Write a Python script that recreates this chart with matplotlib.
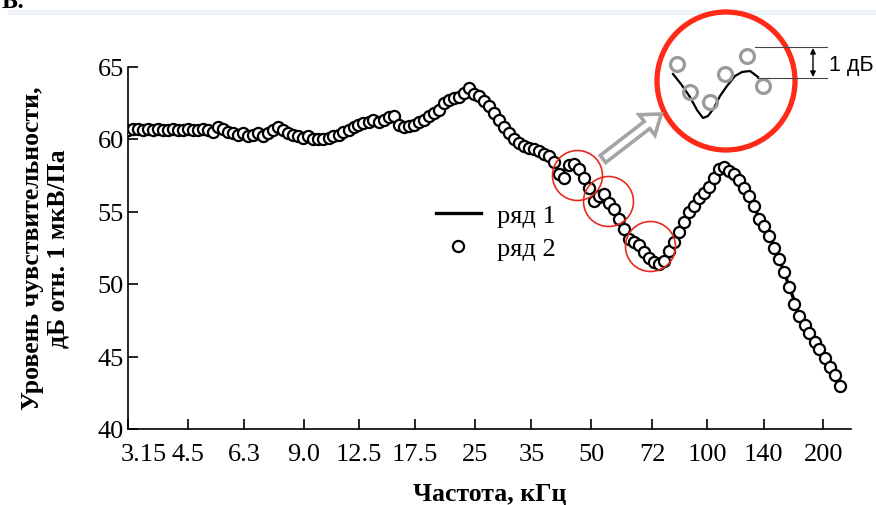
import matplotlib
matplotlib.use("Agg")
import matplotlib.pyplot as plt
from matplotlib.patches import Circle, FancyArrow, Rectangle
from matplotlib.ticker import FixedLocator, NullLocator

# frequency grid, kHz
freq_khz = [
    3.15, 3.25, 3.34, 3.45, 3.55, 3.66, 3.77, 3.88, 4.00, 4.12,
    4.25, 4.38, 4.51, 4.65, 4.79, 4.94, 5.09, 5.24, 5.40, 5.56,
    5.73, 5.91, 6.09, 6.27, 6.46, 6.66, 6.86, 7.07, 7.28, 7.50,
    7.73, 7.97, 8.21, 8.46, 8.71, 8.98, 9.25, 9.53, 9.82, 10.12,
    10.43, 10.74, 11.07, 11.40, 11.75, 12.11, 12.47, 12.85, 13.24, 13.64,
    14.06, 14.49, 14.93, 15.38, 15.85, 16.33, 16.82, 17.33, 17.86, 18.40,
    18.96, 19.54, 20.13, 20.74, 21.37, 22.02, 22.69, 23.38, 24.09, 24.82,
    25.57, 26.35, 27.15, 27.97, 28.82, 29.70, 30.60, 31.53, 32.49, 33.47,
    34.49, 35.54, 36.62, 37.73, 38.87, 40.05, 41.27, 42.52, 43.81, 45.14,
    46.52, 47.93, 49.38, 50.88, 52.43, 54.02, 55.66, 57.35, 59.09, 60.89,
    62.74, 64.64, 66.61, 68.63, 70.71, 72.86, 75.07, 77.35, 79.70, 82.12,
    84.61, 87.18, 89.83, 92.56, 95.37, 98.27, 101.3, 104.3, 107.5, 110.8,
    114.1, 117.6, 121.2, 124.8, 128.6, 132.5, 136.6, 140.7, 145.0, 149.4,
    153.9, 158.6, 163.4, 168.4, 173.5, 178.8, 184.2, 189.8, 195.5, 201.5,
    207.6, 213.9, 220.4,
]

# ряд 2 (circles), dB
level_row2 = [
    60.6, 60.7, 60.7, 60.6, 60.7, 60.6, 60.7, 60.6, 60.6, 60.7,
    60.6, 60.6, 60.7, 60.6, 60.6, 60.7, 60.6, 60.5, 60.8, 60.7,
    60.5, 60.4, 60.3, 60.4, 60.2, 60.3, 60.4, 60.2, 60.4, 60.6,
    60.8, 60.6, 60.4, 60.3, 60.2, 60.1, 60.2, 60.0, 60.0, 60.0,
    60.1, 60.2, 60.3, 60.5, 60.6, 60.8, 61.0, 61.1, 61.2, 61.3,
    61.2, 61.3, 61.5, 61.6, 61.0, 60.8, 60.9, 61.0, 61.2, 61.3,
    61.6, 61.8, 62.0, 62.5, 62.7, 62.8, 62.9, 63.2, 63.5, 63.1,
    63.0, 62.6, 62.3, 61.8, 61.3, 60.8, 60.4, 60.0, 59.7, 59.5,
    59.4, 59.3, 59.2, 59.0, 58.8, 58.4, 57.6, 57.3, 58.2, 58.3,
    57.9, 57.3, 56.6, 55.7, 56.1, 56.2, 55.6, 55.2, 54.5, 53.8,
    53.1, 52.9, 52.7, 52.2, 51.8, 51.5, 51.4, 51.6, 52.3, 52.9,
    53.6, 54.3, 55.0, 55.4, 55.9, 56.3, 56.7, 57.3, 57.9, 58.1,
    57.8, 57.6, 57.2, 56.6, 56.1, 55.4, 54.5, 54.0, 53.3, 52.5,
    51.7, 50.8, 49.8, 48.6, 47.8, 47.2, 46.6, 46.0, 45.5, 44.9,
    44.3, 43.7, 43.0,
]

# ряд 1 (line), read on every second frequency of the grid
level_row1 = [
    60.6, 60.7, 60.7, 60.7, 60.6, 60.6, 60.7, 60.6, 60.6, 60.7,
    60.5, 60.3, 60.3, 60.4, 60.4, 60.7, 60.4, 60.2, 60.1, 60.0,
    60.1, 60.3, 60.6, 61.0, 61.2, 61.2, 61.5, 61.1, 60.9, 61.2,
    61.6, 62.0, 62.7, 62.9, 63.4, 63.0, 62.3, 61.3, 60.4, 59.7,
    59.4, 59.2, 58.8, 57.8, 57.9, 58.0, 56.8, 55.6, 55.8, 54.6,
    53.2, 52.6, 51.7, 51.2, 52.1, 53.6, 55.0, 55.9, 56.7, 57.9,
    57.9, 57.2, 56.1, 54.5, 53.3, 51.7, 49.8, 47.8, 46.6, 45.5,
    44.3, 43.0,
]

tick_freqs = [3.15, 4.5, 6.3, 9.0, 12.5, 17.5, 25, 35, 50, 72, 100, 140, 200]
tick_labels = ["3.15", "4.5", "6.3", "9.0", "12.5", "17.5", "25", "35",
               "50", "72", "100", "140", "200"]
y_ticks = [40, 45, 50, 55, 60, 65]

# circled spots on the curve (kHz, dB)
mark_freqs = [46.0, 55.4, 71.2]
mark_levels = [57.5, 55.7, 52.6]

# zoomed-in sketch (pixel coordinates of the figure)
inset_dots_x = [677, 690, 710, 725, 747, 763]
inset_dots_y = [65, 93, 103, 75, 57, 87]
inset_line_x = [673, 681, 690, 697, 703, 708, 714, 720, 727, 735, 742, 750, 758]
inset_line_y = [75, 85, 98, 111, 119, 117, 109, 97, 87, 77, 73, 72, 78]

serif = "Liberation Serif"
plt.rcParams["font.family"] = [serif, "DejaVu Serif"]

fig = plt.figure(figsize=(8.76, 5.06), dpi=100)
W, H = 876, 506
ax = fig.add_axes([128 / W, 1 - 430 / H, (851 - 128) / W, (430 - 67.5) / H])

ax.plot(freq_khz[::2], level_row1, color="black", lw=2.4, zorder=2, label="ряд 1")
ax.plot(freq_khz, level_row2, ls="none", marker="o", ms=8.0, mfc="white",
        mec="black", mew=1.6, zorder=3, label="ряд 2")
ax.plot(mark_freqs, mark_levels, ls="none", marker="o", ms=36, mfc="none",
        mec="#e82a1e", mew=1.2, zorder=4)

ax.set_xscale("log")
ax.set_xlim(3.15, 236)
ax.set_ylim(40, 65)
ax.xaxis.set_major_locator(FixedLocator(tick_freqs))
ax.xaxis.set_minor_locator(NullLocator())
ax.set_xticklabels([""] + tick_labels[1:])
ax.annotate(tick_labels[0], xy=(tick_freqs[0], 0), xycoords=("data", "axes fraction"),
            xytext=(16, -14), textcoords="offset pixels", ha="center", va="top",
            fontsize=19)
ax.set_yticks(y_ticks)
ax.set_yticklabels([str(v) for v in y_ticks])

for side in ("top", "right"):
    ax.spines[side].set_visible(False)
for side in ("left", "bottom"):
    ax.spines[side].set_linewidth(1.2)
ax.tick_params(direction="in", length=7, width=1.2, labelsize=19)
ax.tick_params(axis="x", pad=10)
ax.tick_params(axis="y", pad=3)

ax.set_xlabel("Частота, кГц", fontsize=18.5, fontweight="bold", labelpad=12)
ax.set_ylabel("Уровень чувствительности,\nдБ отн. 1 мкВ/Па", fontsize=18.5,
              fontweight="bold", labelpad=20, linespacing=1.15)

ax.legend(loc="upper left", bbox_to_anchor=(436 / W, 1 - 205 / H),
          bbox_transform=fig.transFigure, frameon=False, fontsize=19,
          handlelength=1.7, handletextpad=0.6, labelspacing=0.35,
          borderpad=0, borderaxespad=0)

# overlay in pixel units for the sketch
ov = fig.add_axes([0, 0, 1, 1], zorder=5)
ov.set_xlim(0, W)
ov.set_ylim(H, 0)
ov.axis("off")
ov.patch.set_alpha(0)

ov.add_patch(Rectangle((8, 11), W - 8, 5, color="#eef2f9", lw=0))
ov.add_patch(Circle((726, 82), 69, fill=False, ec="#ff2a18", lw=3.8))
ov.add_patch(FancyArrow(603, 160, 44, -34, width=9, head_width=26,
                        head_length=18, length_includes_head=False,
                        fc="white", ec="#a4a4a4", lw=2.6))
ov.plot(inset_line_x, inset_line_y, color="black", lw=1.6)
ov.plot(inset_dots_x, inset_dots_y, ls="none", marker="o", ms=10, mfc="none",
        mec="#9a9a9a", mew=2.3)
ov.plot([755, 827], [48, 48], color="#444444", lw=0.8)
ov.plot([757, 827], [79, 79], color="#444444", lw=0.8)
ov.annotate("", xy=(813, 49), xytext=(813, 78),
            arrowprops=dict(arrowstyle="<|-|>", color="black", lw=1.0,
                            mutation_scale=8, shrinkA=0, shrinkB=0))
ov.text(829, 65, "1 дБ", fontsize=15.5, family="Liberation Sans", va="center", ha="left")
fig.text(2 / W, 1 - 8 / H, "Б.", fontsize=18, fontweight="bold", va="baseline")

fig.savefig("out.png", dpi=100)
